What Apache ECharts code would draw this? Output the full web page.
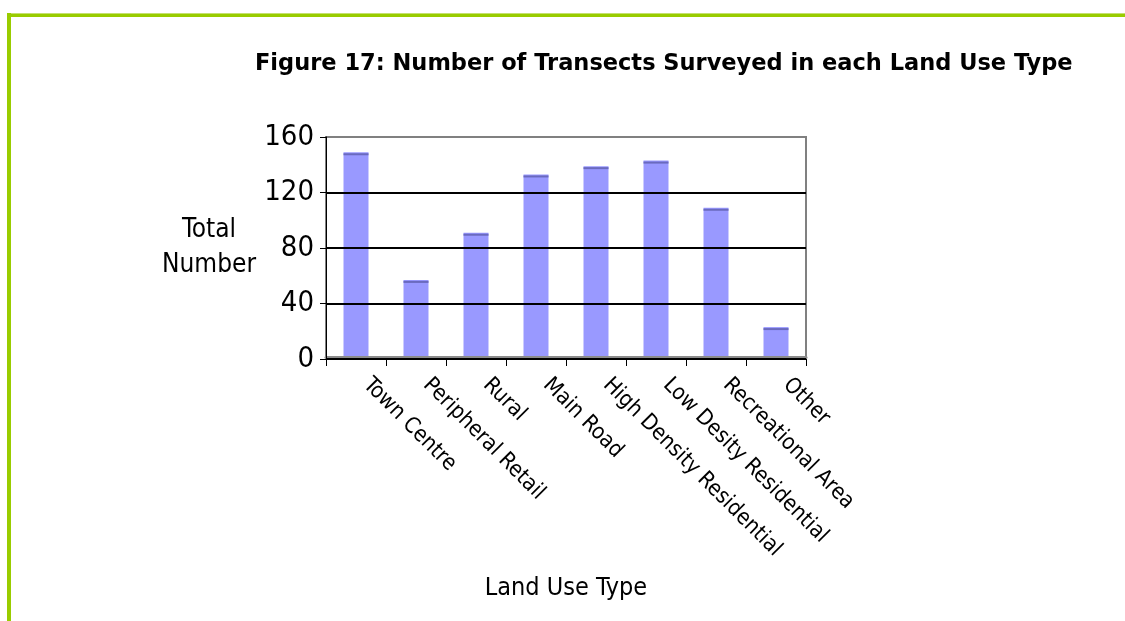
<!DOCTYPE html>
<html>
<head>
<meta charset="utf-8">
<title>Figure 17</title>
<script src="https://cdn.jsdelivr.net/npm/echarts@6/dist/echarts.min.js"></script>
<style>
  html, body { margin: 0; padding: 0; background: #ffffff; }
  #chart { width: 1125px; height: 621px; }
</style>
</head>
<body>
<div id="chart"></div>
<script>
// Land use categories and the number of transects surveyed in each
const categories = [
  'Town Centre', 'Peripheral Retail', 'Rural', 'Main Road',
  'High Density Residential', 'Low Desity Residential', 'Recreational Area', 'Other'
];
const transects = [149, 57, 91, 133, 139, 143, 109, 23];
const yTicks = [0, 40, 80, 120, 160];

const FONT = '"DejaVu Sans Condensed", "DejaVu Sans", sans-serif';
const TITLE_FONT = '"DejaVu Sans", sans-serif';
const BAR_W = 25;

const chart = echarts.init(document.getElementById('chart'), null, { renderer: 'canvas' });

chart.setOption({
  animation: false,
  backgroundColor: '#ffffff',
  title: {
    text: 'Figure 17: Number of Transects Surveyed in each Land Use Type',
    left: 250,
    top: 48,
    textStyle: { fontFamily: TITLE_FONT, fontSize: 22.5, fontWeight: 'bold', color: '#000000' }
  },
  graphic: [
    // page frame: green rules along the top and left edges
    { type: 'rect', shape: { x: 7, y: 13, width: 1118, height: 4 }, style: { fill: '#99cc00' }, silent: true },
    { type: 'rect', shape: { x: 7, y: 13, width: 1118, height: 1 }, style: { fill: '#c4e070' }, silent: true },
    { type: 'rect', shape: { x: 7, y: 13, width: 4, height: 608 }, style: { fill: '#99cc00' }, silent: true }
  ],
  grid: {
    left: 326, right: 319, top: 137, bottom: 262,
    show: true, borderColor: '#808080', borderWidth: 2, backgroundColor: 'transparent'
  },
  xAxis: [
    {
      type: 'category',
      data: categories,
      boundaryGap: true,
      name: 'Land Use Type',
      nameLocation: 'middle',
      nameGap: 217,
      nameTextStyle: { fontFamily: FONT, fontSize: 25, color: '#000000' },
      axisLine: { show: true, lineStyle: { color: '#000000', width: 1 } },
      axisTick: { show: true, length: 7, alignWithLabel: false, lineStyle: { color: '#000000' } },
      axisLabel: {
        rotate: -45, margin: 12, interval: 0,
        padding: [0, 0, 0, 15],
        fontFamily: FONT, fontSize: 22, color: '#000000'
      },
      splitLine: { show: false },
      z: 6
    },
    {
      // grey floor just above the baseline
      type: 'category',
      data: categories,
      position: 'bottom',
      offset: -2,
      axisLine: { show: true, lineStyle: { color: '#8c8c8c', width: 3 } },
      axisTick: { show: false },
      axisLabel: { show: false },
      splitLine: { show: false },
      z: 5
    }
  ],
  yAxis: {
    type: 'value',
    min: 0, max: 160, interval: 40,
    name: 'Total\nNumber',
    nameLocation: 'middle',
    nameRotate: 0,
    nameGap: 117,
    nameTextStyle: { fontFamily: FONT, fontSize: 26, color: '#000000', align: 'center', lineHeight: 35 },
    axisLine: { show: true, lineStyle: { color: '#000000', width: 1 } },
    axisTick: { show: true, length: 6, lineStyle: { color: '#000000' } },
    axisLabel: {
      margin: 12, fontFamily: FONT, fontSize: 29, color: '#000000',
      formatter: v => (yTicks.indexOf(v) >= 0 ? String(v) : '')
    },
    splitLine: { show: true, lineStyle: { color: ['#000000', '#000000', '#000000', '#000000', '#808080'], width: 2 } },
    z: 6
  },
  series: [
    {
      name: 'Transects',
      type: 'bar',
      data: transects,
      barWidth: BAR_W,
      barGap: '-100%',
      itemStyle: { color: '#9999ff' },
      z: 2
    },
    {
      // darker cap along the top of each bar
      name: 'Transects cap',
      type: 'pictorialBar',
      data: transects,
      barWidth: BAR_W,
      barGap: '-100%',
      symbol: 'rect',
      symbolSize: [BAR_W, 2],
      symbolPosition: 'end',
      symbolOffset: [0, '50%'],
      itemStyle: { color: '#6a6abf' },
      z: 3
    }
  ]
});
</script>
</body>
</html>
